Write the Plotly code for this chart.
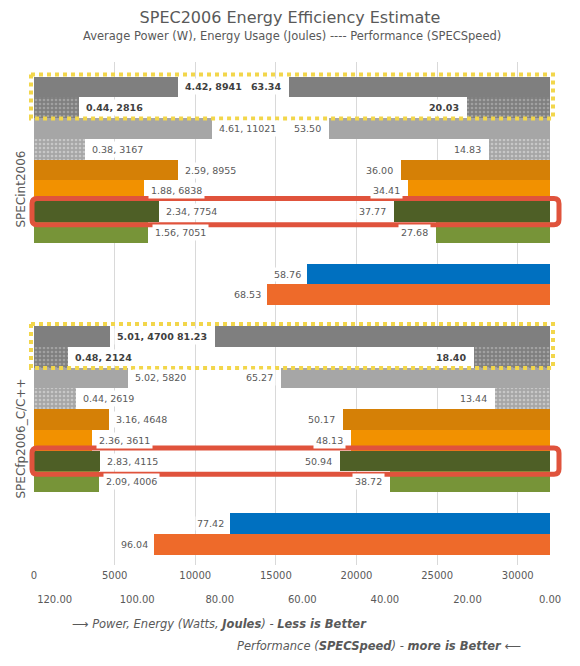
import plotly.graph_objects as go

# ---- data ----
groups = ["SPECint2006", "SPECfp2006_C/C++"]
series = ["A", "A idle", "B", "B idle", "C", "D", "E", "F"]
power_int = [4.42, 0.44, 4.61, 0.38, 2.59, 1.88, 2.34, 1.56]
energy_int = [8941, 2816, 11021, 3167, 8955, 6838, 7754, 7051]
perf_int = [63.34, 20.03, 53.50, 14.83, 36.00, 34.41, 37.77, 27.68]
power_fp = [5.01, 0.48, 5.02, 0.44, 3.16, 2.36, 2.83, 2.09]
energy_fp = [4700, 2124, 5820, 2619, 4648, 3611, 4115, 4006]
perf_fp = [81.23, 18.40, 65.27, 13.44, 50.17, 48.13, 50.94, 38.72]
ref_series = ["Ref 1", "Ref 2"]
ref_perf_int = [58.76, 68.53]
ref_perf_fp = [77.42, 96.04]
energy_ticks = [0, 5000, 10000, 15000, 20000, 25000, 30000]
perf_ticks = [120, 100, 80, 60, 40, 20, 0]

# ---- styles ----
colors = ["#7f7f7f", "#7f7f7f", "#a6a6a6", "#a6a6a6", "#d58006", "#f29100", "#4e5f26", "#779438"]
dotted = [False, True, False, True, False, False, False, False]
dotcol = ["", "#c4c4c4", "", "#e8e8e8", "", "", "", ""]
bold = [True, True, False, False, False, False, False, False]
ref_colors = ["#0070c0", "#ee6a2a"]
GROUP_STEP = 12
txtcol = "#595959"

# page is rendered with an 8px body margin; figure coords = page coords - 8
W, H = 564, 650
ML, MR, MT, MB = 26, 22, 54, 48
PW = W - ML - MR          # 516
PH = H - MT - MB          # 548


def xp(page_x):
    return (page_x - 8 - ML) / PW


def yp(page_y):
    return (H - MB - (page_y - 8)) / PH


def rounded_rect(x0, x1, y0, y1, rx, ry):
    return (f"M {x0 + rx} {y0} L {x1 - rx} {y0} Q {x1} {y0} {x1} {y0 + ry} "
            f"L {x1} {y1 - ry} Q {x1} {y1} {x1 - rx} {y1} "
            f"L {x0 + rx} {y1} Q {x0} {y1} {x0} {y1 - ry} "
            f"L {x0} {y0 + ry} Q {x0} {y0} {x0 + rx} {y0} Z")


fig = go.Figure()
annos = []

for i, name in enumerate(series):
    ys = [g * GROUP_STEP + i for g in range(2)]
    energies = [energy_int[i], energy_fp[i]]
    perfs = [perf_int[i], perf_fp[i]]
    powers = [power_int[i], power_fp[i]]
    marker = dict(color=colors[i], line=dict(width=0))
    if dotted[i]:
        marker["pattern"] = dict(shape=".", fillmode="overlay", fgcolor=dotcol[i], size=4, solidity=0.35)
    fig.add_trace(go.Bar(y=ys, x=energies, orientation="h", width=1, marker=marker,
                         xaxis="x", yaxis="y", name=name + " energy", showlegend=False))
    fig.add_trace(go.Bar(y=ys, x=perfs, orientation="h", width=1, marker=marker,
                         xaxis="x2", yaxis="y", name=name + " perf", showlegend=False))
    for y, e, p, w in zip(ys, energies, perfs, powers):
        lt = f"{w:.2f}, {e}"
        rt = f"{p:.2f}"
        if bold[i]:
            lt, rt = f"<b>{lt}</b>", f"<b>{rt}</b>"
        fc = "#404040" if bold[i] else txtcol
        annos.append(dict(x=e, y=y, xref="x", yref="y", text=lt, showarrow=False,
                          xanchor="left", yanchor="middle", xshift=4, bgcolor="white",
                          borderpad=2, font=dict(size=9.5, color=fc, family="DejaVu Sans")))
        annos.append(dict(x=p, y=y, xref="x2", yref="y", text=rt, showarrow=False,
                          xanchor="right", yanchor="middle", xshift=-5, bgcolor="white",
                          borderpad=2, font=dict(size=9.5, color=fc, family="DejaVu Sans")))

for j, name in enumerate(ref_series):
    ys = [g * GROUP_STEP + len(series) + 1 + j for g in range(2)]
    perfs = [ref_perf_int[j], ref_perf_fp[j]]
    fig.add_trace(go.Bar(y=ys, x=perfs, orientation="h", width=1,
                         marker=dict(color=ref_colors[j], line=dict(width=0)),
                         xaxis="x2", yaxis="y", name=name, showlegend=False))
    for y, p in zip(ys, perfs):
        annos.append(dict(x=p, y=y, xref="x2", yref="y", text=f"{p:.2f}", showarrow=False,
                          xanchor="right", yanchor="middle", xshift=-4, bgcolor="white",
                          borderpad=1, font=dict(size=9.5, color=txtcol, family="DejaVu Sans")))

# highlight boxes
shapes = []
for g in range(2):
    base = g * GROUP_STEP
    shapes.append(dict(type="rect", xref="paper", yref="y", x0=xp(31), x1=xp(553),
                       y0=base - 0.6, y1=base + 1.52,
                       line=dict(color="#f2d64b", width=4, dash="dot")))
    shapes.append(dict(type="path", xref="paper", yref="y",
                       path=rounded_rect(xp(32), xp(559), base + 6 - 0.63, base + 6 + 0.63,
                                         5 / PW, 0.25),
                       line=dict(color="#e0533c", width=5)))

# bottom notes and subtitle
annos.append(dict(x=0.5, y=yp(36), xref="paper", yref="paper", showarrow=False,
                  text="Average Power (W), Energy Usage (Joules) ---- Performance (SPECSpeed)",
                  xanchor="center", yanchor="middle",
                  font=dict(size=11.5, color=txtcol, family="DejaVu Sans")))
annos.append(dict(x=xp(70), y=yp(624), xref="paper", yref="paper", showarrow=False,
                  text="<i>⟶ Power, Energy (Watts, <b>Joules</b>) - <b>Less is Better</b></i>",
                  xanchor="left", yanchor="middle",
                  font=dict(size=11.5, color=txtcol, family="DejaVu Sans")))
annos.append(dict(x=xp(235), y=yp(646), xref="paper", yref="paper", showarrow=False,
                  text="<i>Performance (<b>SPECSpeed</b>) - <b>more is Better</b> ⟵</i>",
                  xanchor="left", yanchor="middle",
                  font=dict(size=11.5, color=txtcol, family="DejaVu Sans")))

fig.update_layout(
    width=W, height=H,
    margin=dict(l=ML, r=MR, t=MT, b=MB, autoexpand=False),
    paper_bgcolor="white", plot_bgcolor="white",
    barmode="overlay", bargap=0,
    font=dict(family="DejaVu Sans", color=txtcol),
    title=dict(text="SPEC2006 Energy Efficiency Estimate", x=(290 - 8) / W, xanchor="center",
               y=1 - (17 - 8) / H, yanchor="middle", yref="container",
               font=dict(size=16, color=txtcol, family="DejaVu Sans")),
    xaxis=dict(range=[0, 32000], tickvals=energy_ticks, tickformat="d", showgrid=True,
               gridcolor="#d9d9d9", gridwidth=1, zeroline=False, showline=False, ticks="",
               anchor="y", automargin=False, ticklabelstandoff=3,
               tickfont=dict(size=10, color=txtcol)),
    xaxis2=dict(range=[125, 0], tickvals=perf_ticks, tickformat=".2f", overlaying="x",
                anchor="free", position=yp(592), side="bottom", showgrid=False, zeroline=False,
                showline=False, ticks="", automargin=False, tickfont=dict(size=10, color=txtcol)),
    yaxis=dict(range=[23.0, -1.2], domain=[yp(565), 1], tickvals=[5, 17],
               ticktext=groups, tickangle=-90, showgrid=False, zeroline=False,
               showline=False, ticks="", ticklabelstandoff=6, automargin=False,
               tickfont=dict(size=12, color=txtcol)),
    annotations=annos,
    shapes=shapes,
)

fig.write_html("out.html")
